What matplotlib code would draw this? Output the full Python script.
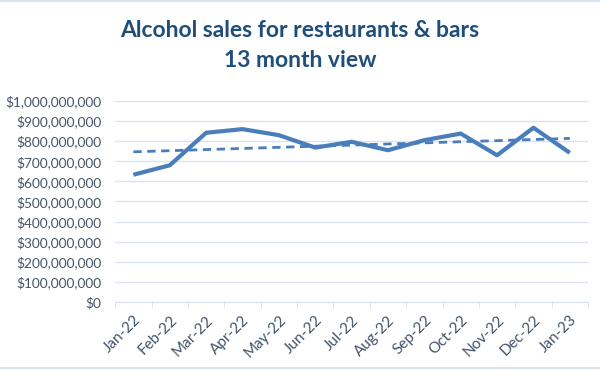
import matplotlib
matplotlib.use('Agg')
import matplotlib.pyplot as plt
from matplotlib.ticker import FuncFormatter, MultipleLocator
from matplotlib.lines import Line2D
import numpy as np

months = ['Jan-22', 'Feb-22', 'Mar-22', 'Apr-22', 'May-22', 'Jun-22', 'Jul-22',
          'Aug-22', 'Sep-22', 'Oct-22', 'Nov-22', 'Dec-22', 'Jan-23']
sales = [633e6, 680e6, 842e6, 860e6, 830e6, 768e6, 797e6,
         755e6, 805e6, 838e6, 730e6, 867e6, 742e6]

line_color = '#4A7EBB'
text_color = '#44546A'
title_color = '#1F4E79'
grid_color = '#D9E1F2'

plt.rcParams['font.family'] = ['Lato', 'DejaVu Sans']

fig = plt.figure(figsize=(6, 3.7), dpi=100)
ax = fig.add_axes([0.192, 0.184, 0.788, 0.543])

x = np.arange(len(months))
ax.plot(x, sales, color=line_color, lw=3.0, solid_joinstyle='round',
        solid_capstyle='butt', zorder=3)

# linear trendline
k, b = np.polyfit(x, sales, 1)
ax.plot(x, k * x + b, color=line_color, lw=2.0, ls=(0, (3, 2)), zorder=2)

ax.set_xlim(-0.5, len(months) - 0.5)
ax.set_ylim(0, 1e9)
ax.yaxis.set_major_locator(MultipleLocator(1e8))
ax.yaxis.set_major_formatter(FuncFormatter(lambda v, p: '${:,.0f}'.format(v)))
ax.grid(axis='y', color=grid_color, lw=1.0)
ax.set_axisbelow(True)

ax.set_xticks(x)
ax.set_xticklabels(months, rotation=45, ha='right', va='top',
                   rotation_mode='anchor')
ax.set_xticks(np.arange(-0.5, len(months)), minor=True)
ax.tick_params(axis='x', which='major', length=0, pad=8,
               labelsize=11, labelcolor=text_color)
ax.tick_params(axis='x', which='minor', length=4, color=grid_color,
               direction='out')
ax.tick_params(axis='y', length=0, pad=10, labelsize=9.8,
               labelcolor=text_color)

for s in ['top', 'right', 'left']:
    ax.spines[s].set_visible(False)
ax.spines['bottom'].set_color(grid_color)

fig.text(0.5, 0.877, 'Alcohol sales for restaurants & bars\n13 month view',
         ha='center', va='center', fontsize=16.5, fontweight='bold',
         color=title_color, linespacing=1.5)

# chart frame lines
fig.add_artist(Line2D([0, 1], [0.998, 0.998], color=grid_color, lw=1.5))
fig.add_artist(Line2D([0, 1], [0.005, 0.005], color=grid_color, lw=1.5))

fig.savefig('out.png', dpi=100)
